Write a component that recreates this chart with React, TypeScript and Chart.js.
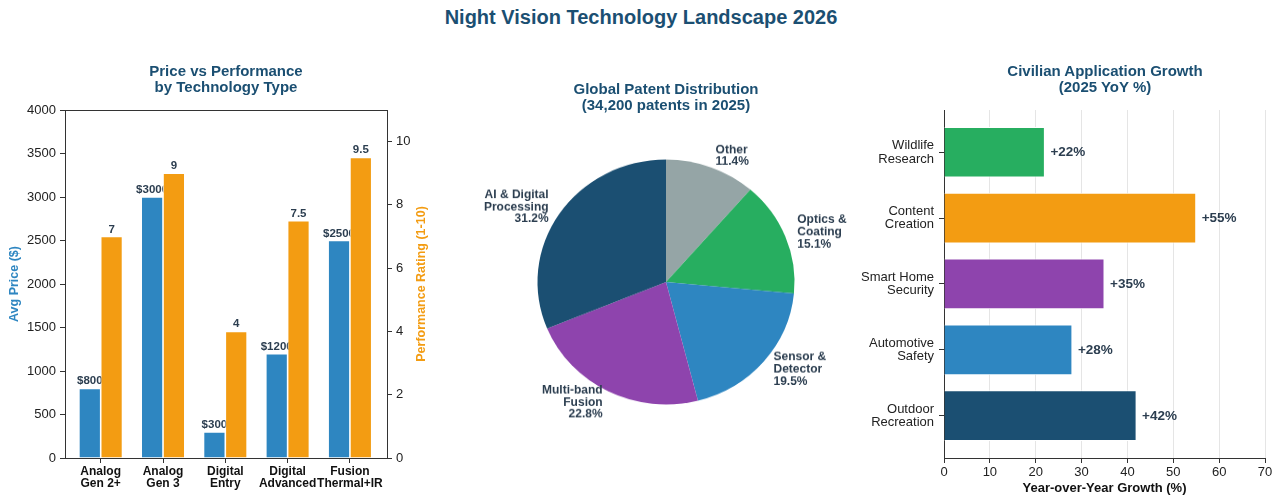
import React, { useEffect, useRef } from "react";
import { Chart, registerables } from "chart.js";
Chart.register(...registerables);

const FONT = "'Liberation Sans', Arial, Helvetica, sans-serif";
const TITLE_COLOR = "#1B4F72";
const LABEL_COLOR = "#2C3E50";
const BLUE = "#2E86C1";
const ORANGE = "#F39C12";
const NAVY = "#1B4F72";
const PURPLE = "#8E44AD";
const GREEN = "#27AE60";
const GRAY = "#95A5A6";

// ---- Data ----
const techCategories = [
  ["Analog", "Gen 2+"],
  ["Analog", "Gen 3"],
  ["Digital", "Entry"],
  ["Digital", "Advanced"],
  ["Fusion", "Thermal+IR"],
];
const avgPrice = [800, 3000, 300, 1200, 2500];
const perfRating = [7, 9, 4, 7.5, 9.5];

const patentLabels = [
  ["Other"],
  ["Optics &", "Coating"],
  ["Sensor &", "Detector"],
  ["Multi-band", "Fusion"],
  ["AI & Digital", "Processing"],
];
const patentShares = [11.4, 15.1, 19.5, 22.8, 31.2];
const patentColors = [GRAY, GREEN, BLUE, PURPLE, NAVY];

const appCategories = [
  ["Wildlife", "Research"],
  ["Content", "Creation"],
  ["Smart Home", "Security"],
  ["Automotive", "Safety"],
  ["Outdoor", "Recreation"],
];
const appGrowth = [22, 55, 35, 28, 42];
const appColors = [GREEN, ORANGE, PURPLE, BLUE, NAVY];

Chart.defaults.font.family = FONT;
Chart.defaults.color = "#222";

// ---- Left chart ----
const leftLabelsPlugin = {
  id: "leftLabels",
  beforeDatasetDraw(chart: any, args: any) {
    if (args.index !== 1) return;
    const meta = chart.getDatasetMeta(0);
    const ctx = chart.ctx;
    ctx.save();
    ctx.font = `bold 11.5px ${FONT}`;
    ctx.fillStyle = LABEL_COLOR;
    ctx.textAlign = "center";
    ctx.textBaseline = "alphabetic";
    meta.data.forEach((bar: any, i: number) => {
      ctx.fillText(`$${avgPrice[i]}`, bar.x, bar.y - 4);
    });
    ctx.restore();
  },
  afterDatasetsDraw(chart: any) {
    const meta = chart.getDatasetMeta(1);
    const ctx = chart.ctx;
    ctx.save();
    ctx.font = `bold 11.5px ${FONT}`;
    ctx.fillStyle = LABEL_COLOR;
    ctx.textAlign = "center";
    ctx.textBaseline = "alphabetic";
    meta.data.forEach((bar: any, i: number) => {
      ctx.fillText(`${perfRating[i]}`, bar.x, bar.y - 4);
    });
    // right axis title, reading bottom-to-top
    const s = chart.scales.y1;
    const ca = chart.chartArea;
    ctx.translate(s.right - 18, (ca.top + ca.bottom) / 2);
    ctx.rotate(-Math.PI / 2);
    ctx.font = `bold 12.5px ${FONT}`;
    ctx.fillStyle = ORANGE;
    ctx.textBaseline = "middle";
    ctx.fillText("Performance Rating (1-10)", 0, 0);
    ctx.restore();
  },
};

function makeLeft(canvas: HTMLCanvasElement) {
  return new Chart(canvas, {
    type: "bar",
    data: {
      datasets: [
        {
          label: "Avg Price ($)",
          data: avgPrice.map((v, i) => ({ x: i, y: v })),
          backgroundColor: BLUE,
          borderColor: "#ffffff",
          borderWidth: 0.8,
          xAxisID: "x",
          yAxisID: "y",
          categoryPercentage: 0.7,
          barPercentage: 1,
        },
        {
          label: "Performance Rating (1-10)",
          data: perfRating.map((v, i) => ({ x: i, y: v })),
          backgroundColor: ORANGE,
          borderColor: "#ffffff",
          borderWidth: 0.8,
          xAxisID: "x",
          yAxisID: "y1",
          categoryPercentage: 0.7,
          barPercentage: 1,
        },
      ],
    } as any,
    options: {
      responsive: false,
      animation: false,
      events: [],
      layout: { padding: { top: 110, left: 0, right: 0, bottom: 0 } },
      plugins: { legend: { display: false }, tooltip: { enabled: false } },
      scales: {
        x: {
          type: "linear",
          position: "bottom",
          min: -0.573,
          max: 4.595,
          offset: false,
          afterBuildTicks: (s: any) => {
            s.ticks = techCategories.map((_, i) => ({ value: i }));
          },
          afterFit: (s: any) => {
            s.height = 46;
          },
          ticks: {
            autoSkip: false,
            maxRotation: 0,
            padding: 2,
            color: "#111",
            font: { family: FONT, size: 12, weight: "bold", lineHeight: 1.05 },
            callback: (v: any) => techCategories[v] || "",
          },
          grid: { drawOnChartArea: false, offset: false, tickLength: 5, tickColor: "#333", color: "#333" },
          border: { display: true, color: "#333", width: 1 },
        },
        xTop: {
          type: "linear",
          position: "top",
          min: 0,
          max: 1,
          offset: false,
          ticks: { display: false },
          grid: { display: false },
          border: { display: true, color: "#333", width: 1 },
          afterFit: (s: any) => {
            s.height = 0;
          },
        },
        y: {
          position: "left",
          min: 0,
          max: 4000,
          ticks: {
            stepSize: 500,
            padding: 4,
            color: "#222",
            font: { size: 13 },
            callback: (v: any) => String(v),
          },
          grid: { drawOnChartArea: false, tickLength: 5, tickColor: "#333" },
          border: { display: true, color: "#333", width: 1 },
          afterFit: (s: any) => {
            s.width = 65;
          },
          title: {
            display: true,
            text: "Avg Price ($)",
            color: BLUE,
            font: { size: 12.5, weight: "bold" },
            padding: { top: 7, bottom: 0 },
          },
        },
        y1: {
          position: "right",
          min: 0,
          max: 11,
          ticks: {
            stepSize: 2,
            includeBounds: false,
            padding: 4,
            color: "#222",
            font: { size: 13 },
            callback: (v: any) => String(v),
          },
          grid: { drawOnChartArea: false, tickLength: 5, tickColor: "#333" },
          border: { display: true, color: "#333", width: 1 },
          afterFit: (s: any) => {
            s.width = 53;
          },
        },
      },
    } as any,
    plugins: [leftLabelsPlugin],
  });
}

// ---- Pie chart ----
const pieLabelsPlugin = {
  id: "pieLabels",
  afterDatasetsDraw(chart: any) {
    const meta = chart.getDatasetMeta(0);
    const ctx = chart.ctx;
    ctx.save();
    ctx.font = `bold 12px ${FONT}`;
    ctx.fillStyle = LABEL_COLOR;
    ctx.textBaseline = "middle";
    const lh = 12.8;
    meta.data.forEach((arc: any, i: number) => {
      const p = arc.getProps(["x", "y", "startAngle", "endAngle", "outerRadius"], true);
      const mid = (p.startAngle + p.endAngle) / 2;
      const lx = p.x + Math.cos(mid) * p.outerRadius * 1.1;
      const ly = p.y + Math.sin(mid) * p.outerRadius * 1.1;
      ctx.textAlign = Math.cos(mid) >= 0 ? "left" : "right";
      const lines = [...patentLabels[i], `${patentShares[i].toFixed(1)}%`];
      const y0 = ly - ((lines.length - 1) * lh) / 2;
      lines.forEach((t, k) => ctx.fillText(t, lx, y0 + k * lh));
    });
    ctx.restore();
  },
};

function makePie(canvas: HTMLCanvasElement) {
  return new Chart(canvas, {
    type: "pie",
    data: {
      labels: patentLabels.map((l) => l.join(" ")),
      datasets: [{ data: patentShares, backgroundColor: patentColors, borderWidth: 0 }],
    },
    options: {
      responsive: false,
      animation: false,
      events: [],
      layout: { padding: { left: 97.5, right: 55.5, top: 153.5, bottom: 93.5 } },
      plugins: { legend: { display: false }, tooltip: { enabled: false } },
    } as any,
    plugins: [pieLabelsPlugin],
  });
}

// ---- Right chart ----
const rightLabelsPlugin = {
  id: "rightLabels",
  afterDatasetsDraw(chart: any) {
    const meta = chart.getDatasetMeta(0);
    const ctx = chart.ctx;
    ctx.save();
    ctx.font = `bold 13.5px ${FONT}`;
    ctx.fillStyle = LABEL_COLOR;
    ctx.textAlign = "left";
    ctx.textBaseline = "middle";
    meta.data.forEach((bar: any, i: number) => {
      ctx.fillText(`+${appGrowth[i]}%`, bar.x + 5.5, bar.y + 0.5);
    });
    ctx.restore();
  },
};

function makeRight(canvas: HTMLCanvasElement) {
  return new Chart(canvas, {
    type: "bar",
    data: {
      datasets: [
        {
          label: "Growth",
          data: appGrowth.map((v, i) => ({ x: v, y: i })),
          backgroundColor: appColors,
          borderColor: "#ffffff",
          borderWidth: 1,
          categoryPercentage: 0.77,
          barPercentage: 1,
        },
      ],
    } as any,
    options: {
      indexAxis: "y",
      responsive: false,
      animation: false,
      events: [],
      layout: { padding: { top: 110, right: 17, left: 0, bottom: 0 } },
      plugins: { legend: { display: false }, tooltip: { enabled: false } },
      scales: {
        x: {
          type: "linear",
          position: "bottom",
          min: 0,
          max: 70,
          z: 1,
          ticks: { stepSize: 10, padding: 2, color: "#222", font: { size: 13 } },
          grid: { color: "rgba(170,170,170,0.3)", tickColor: "#333", tickLength: 5 },
          border: { display: true, color: "#333", width: 1 },
          afterFit: (s: any) => {
            s.height = 46;
          },
          title: {
            display: true,
            text: "Year-over-Year Growth (%)",
            color: "#111",
            font: { size: 13, weight: "bold" },
            padding: { top: 0, bottom: 8 },
          },
        },
        y: {
          type: "linear",
          position: "left",
          reverse: true,
          min: -0.642,
          max: 4.643,
          offset: false,
          afterBuildTicks: (s: any) => {
            s.ticks = appCategories.map((_, i) => ({ value: i }));
          },
          afterFit: (s: any) => {
            s.width = 104;
          },
          ticks: {
            autoSkip: false,
            padding: 5,
            color: "#222",
            font: { size: 13, lineHeight: 1.03 },
            callback: (v: any) => appCategories[v] || "",
          },
          grid: { drawOnChartArea: false, offset: false, tickLength: 5, tickColor: "#333" },
          border: { display: true, color: "#333", width: 1 },
        },
      },
    } as any,
    plugins: [rightLabelsPlugin],
  });
}

function ChartCanvas({ width, height, make }: { width: number; height: number; make: (c: HTMLCanvasElement) => Chart }) {
  const ref = useRef<HTMLCanvasElement | null>(null);
  useEffect(() => {
    const chart = make(ref.current as HTMLCanvasElement);
    return () => chart.destroy();
  }, []);
  return <canvas ref={ref} width={width} height={height} style={{ display: "block", width, height }} />;
}

const titleStyle: React.CSSProperties = {
  position: "absolute",
  textAlign: "center",
  fontWeight: "bold",
  color: TITLE_COLOR,
  fontFamily: FONT,
  whiteSpace: "pre",
};

export default function App() {
  return (
    <div
      style={{
        position: "absolute",
        left: 0,
        top: 0,
        width: 1282,
        height: 504,
        background: "#fff",
        overflow: "hidden",
        fontFamily: FONT,
      }}
    >
      <div style={{ ...titleStyle, left: 0, width: 1282, top: 5, fontSize: 20, lineHeight: "24px" }}>
        Night Vision Technology Landscape 2026
      </div>

      <div style={{ position: "absolute", left: 0, top: 0, width: 440, height: 504 }}>
        <ChartCanvas width={440} height={504} make={makeLeft} />
      </div>
      <div style={{ ...titleStyle, left: 76, width: 300, top: 63, fontSize: 15, lineHeight: "16px" }}>
        {"Price vs Performance\nby Technology Type"}
      </div>

      <div
        style={{
          position: "absolute",
          left: 440,
          top: 0,
          width: 410,
          height: 504,
          transform: "scaleY(0.953)",
          transformOrigin: "226px 282px",
        }}
      >
        <ChartCanvas width={410} height={504} make={makePie} />
      </div>
      <div style={{ ...titleStyle, left: 516, width: 300, top: 81, fontSize: 15, lineHeight: "16px" }}>
        {"Global Patent Distribution\n(34,200 patents in 2025)"}
      </div>

      <div style={{ position: "absolute", left: 840, top: 0, width: 442, height: 504 }}>
        <ChartCanvas width={442} height={504} make={makeRight} />
      </div>
      <div style={{ ...titleStyle, left: 955, width: 300, top: 63, fontSize: 15, lineHeight: "16px" }}>
        {"Civilian Application Growth\n(2025 YoY %)"}
      </div>
    </div>
  );
}
